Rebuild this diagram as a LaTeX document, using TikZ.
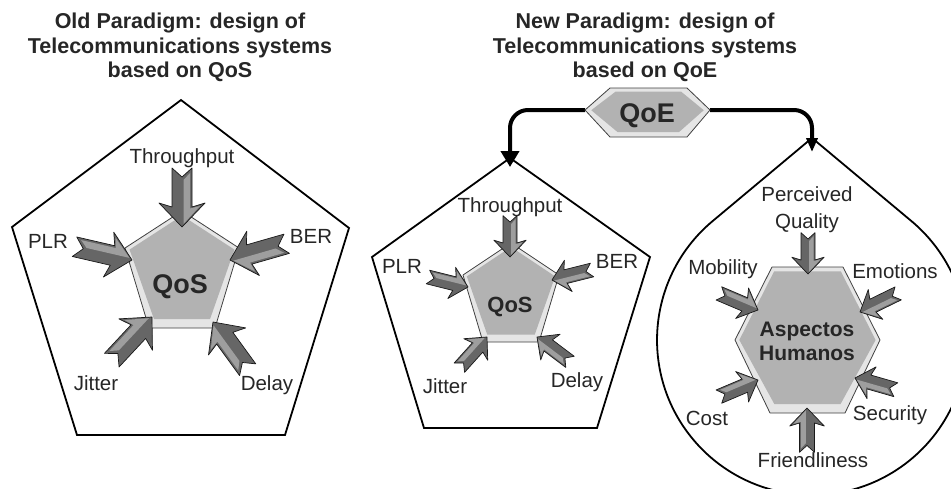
\documentclass[tikz,border=0pt]{standalone}
\usepackage{fontspec}
\setmainfont{Liberation Sans}
\usetikzlibrary{arrows.meta,calc}
\tikzset{
  outline/.style={draw=black, line width=1.8pt, line join=miter},
  rim/.style={fill=black!10, draw=black!75, line width=0.8pt, line join=round},
  face/.style={fill=black!30},
  lbl/.style={font=\fontsize{20.5}{24}\selectfont, text=black!85, inner sep=0pt, anchor=base},
  ttl/.style={font=\bfseries\fontsize{21.5}{24.5}\selectfont, align=center, inner sep=0pt, anchor=north, text=black!85},
  conn/.style={line width=4pt, rounded corners=18pt},
  barrow/.pic={
    \filldraw[fill=black!60, draw=black!90, line width=0.7pt, line join=round]
      (0,0) -- (-24,23) -- (-20,10) -- (-59,10) -- (-50,0) -- (-59,-10) -- (-20,-10) -- (-24,-23) -- cycle;
    \fill[black!38] (-3,-1.5) -- (-21,-18) -- (-18.5,-8) -- (-54,-8) -- (-47,-1.5) -- cycle;
  },
}
\begin{document}
\begin{tikzpicture}[x=1pt,y=-1pt]
\useasboundingbox (0,0) rectangle (951,488);
\clip (0,0) rectangle (951,488);

% titles
\node[ttl] (t1) at (180,13) {Old Paradigm: design of\\Telecommunications systems\\based on QoS};
\node[ttl] (t2) at (645,13) {New Paradigm: design of\\Telecommunications systems\\based on QoE};

% outer frames
\draw[outline] (181,100) -- (349,228) -- (285,435) -- (77,435) -- (12,227) -- cycle;
\draw[outline] (510,158) -- (650,257) -- (597,428) -- (424,428) -- (372,257) -- cycle;
\draw[outline] (812,138) -- (712.6,221.1) arc[start angle=230.1, end angle=-50.1, radius=155] -- cycle;

% connectors from QoE
\coordinate (qoeL) at (585,110);
\coordinate (qoeR) at (710,110);
\coordinate (inA) at (510,167);
\coordinate (inB) at (812,152);
\draw[conn, -{Triangle[width=18pt,length=16pt]}] (qoeL) -| (inA);
\draw[conn, -{Triangle[width=11pt,length=14pt]}] (qoeR) -| (inB);

% QoE hexagon
\coordinate (qc) at (647.5,112);
\draw[rim] (585,110) -- (610,88) -- (687,88) -- (710,110) -- (687,137) -- (610,137) -- cycle;
\fill[face] ($(qc)!0.9!(585,110)$) -- ($(qc)!0.85!(610,88)$) -- ($(qc)!0.85!(687,88)$) -- ($(qc)!0.9!(710,110)$) -- ($(qc)!0.8!(687,137)$) -- ($(qc)!0.8!(610,137)$) -- cycle;
\node[lbl, font=\bfseries\fontsize{27}{30}\selectfont] (qoe) at (647,122) {QoE};

% left inner pentagon
\coordinate (c1) at (182,268);
\draw[rim] (182,211) -- (239,248) -- (215,328) -- (149,328) -- (125,248) -- cycle;
\fill[face] ($(c1)!0.92!(182,211)$) -- ($(c1)!0.92!(239,248)$) -- ($(c1)!0.85!(215,328)$) -- ($(c1)!0.85!(149,328)$) -- ($(c1)!0.92!(125,248)$) -- cycle;

% middle inner pentagon
\coordinate (c2) at (511,292);
\draw[rim] (511,243) -- (559,275) -- (539,342) -- (483,342) -- (463,275) -- cycle;
\fill[face] ($(c2)!0.92!(511,243)$) -- ($(c2)!0.92!(559,275)$) -- ($(c2)!0.85!(539,342)$) -- ($(c2)!0.85!(483,342)$) -- ($(c2)!0.92!(463,275)$) -- cycle;

% Aspectos hexagon
\coordinate (c3) at (807,340);
\draw[rim] (735,340) -- (772,267) -- (843,267) -- (880,340) -- (845,413) -- (770,413) -- cycle;
\fill[face] ($(c3)!0.94!(735,340)$) -- ($(c3)!0.94!(772,267)$) -- ($(c3)!0.94!(843,267)$) -- ($(c3)!0.94!(880,340)$) -- ($(c3)!0.88!(845,413)$) -- ($(c3)!0.88!(770,413)$) -- cycle;

% left arrows
\pic[rotate=-90] at (182,227) {barrow};
\pic[rotate=-13] at (132,260) {barrow};
\pic[rotate=196] at (230,260) {barrow};
\pic[rotate=47] at (152,317) {barrow};
\pic[rotate=126] at (213,322) {barrow};

% middle arrows
\pic[rotate=-90,scale=0.7] at (510,257) {barrow};
\pic[rotate=-14,scale=0.7] at (468,287) {barrow};
\pic[rotate=194,scale=0.7] at (552,280) {barrow};
\pic[rotate=48,scale=0.7] at (487,337) {barrow};
\pic[rotate=143,scale=0.7] at (537,337) {barrow};

% hexagon arrows
\pic[rotate=-90,scale=0.7] at (808,274) {barrow};
\pic[rotate=90,scale=0.75] at (807,408) {barrow};
\pic[rotate=-23,scale=0.72] at (758,310) {barrow};
\pic[rotate=206,scale=0.72] at (860,312) {barrow};
\pic[rotate=23,scale=0.72] at (758,380) {barrow};
\pic[rotate=164,scale=0.72] at (855,378) {barrow};

% left labels
\node[lbl] (thr1) at (182,163) {Throughput};
\node[lbl] (plr1) at (48,248) {PLR};
\node[lbl] (ber1) at (311,243) {BER};
\node[lbl] (jit1) at (96,390) {Jitter};
\node[lbl] (del1) at (267,390) {Delay};
\node[lbl, font=\bfseries\fontsize{27}{30}\selectfont] (qos1) at (180,293) {QoS};

% middle labels
\node[lbl] (thr2) at (510,212) {Throughput};
\node[lbl] (plr2) at (402,273) {PLR};
\node[lbl] (ber2) at (617,268) {BER};
\node[lbl] (jit2) at (445,393) {Jitter};
\node[lbl] (del2) at (577,387) {Delay};
\node[lbl, font=\bfseries\fontsize{22}{26}\selectfont] (qos2) at (510,312) {QoS};

% right labels
\node[lbl, anchor=north, align=center, font=\fontsize{20.5}{27}\selectfont] (pq) at (807,186) {Perceived\\Quality};
\node[lbl] (mob) at (723,274) {Mobility};
\node[lbl] (emo) at (895,278) {Emotions};
\node[lbl] (cost) at (707,425) {Cost};
\node[lbl] (sec) at (890,420) {Security};
\node[lbl] (fri) at (813,467) {Friendliness};
\node[lbl, anchor=north, align=center, font=\bfseries\fontsize{21}{24}\selectfont] (ah) at (807,322) {Aspectos\\Humanos};
\end{tikzpicture}
\end{document}
